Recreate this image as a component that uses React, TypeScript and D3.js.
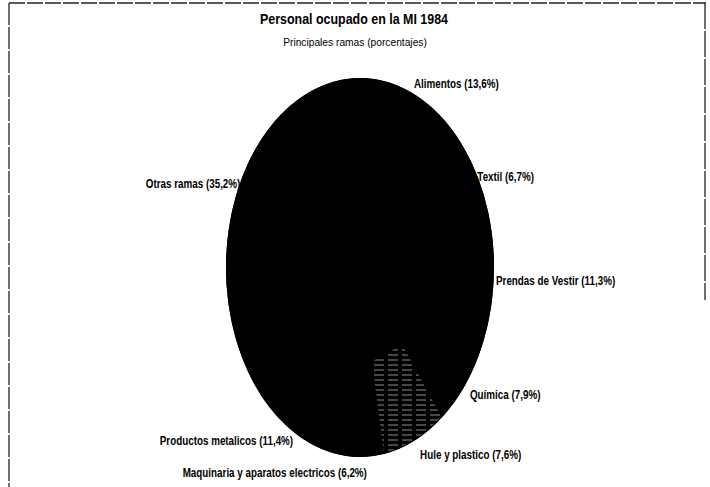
import React, { useEffect, useRef } from 'react';
import * as d3 from 'd3';

const ramas = [
    'Alimentos',
    'Textil',
    'Prendas de Vestir',
    'Química',
    'Hule y plastico',
    'Maquinaria y aparatos electricos',
    'Productos metalicos',
    'Otras ramas',
];
const porcentajes = [13.6, 6.7, 11.3, 7.9, 7.6, 6.2, 11.4, 35.2];
const etiquetas = ['13,6', '6,7', '11,3', '7,9', '7,6', '6,2', '11,4', '35,2'];

const FONT = "'Liberation Sans', Arial, sans-serif";

export default function App() {
    const svgRef = useRef<SVGSVGElement>(null);

    useEffect(() => {
        if (!svgRef.current) return;
        const width = 710;
        const height = 487;
        const svg = d3.select(svgRef.current).attr('width', width).attr('height', height);
        svg.selectAll('*').remove();

        svg.append('rect').attr('width', width).attr('height', height).attr('fill', '#fff');

        const cx = 360;
        const cy = 267.5;
        const rx = 134;
        const ry = 189.5;

        // scanned hatching texture in the hule slice
        const defs = svg.append('defs');
        const pat = defs.append('pattern')
            .attr('id', 'hatch')
            .attr('patternUnits', 'userSpaceOnUse')
            .attr('patternTransform', `scale(${ry / rx},1)`)
            .attr('width', 14)
            .attr('height', 5);
        pat.append('line')
            .attr('x1', 0).attr('x2', 10).attr('y1', 2.5).attr('y2', 2.5)
            .attr('stroke', '#fff').attr('stroke-width', 0.8).attr('stroke-opacity', 0.7);

        // frame
        const frame = svg.append('g').attr('stroke', '#222').attr('stroke-width', 1.3).attr('fill', 'none');
        frame.append('line').attr('x1', 9).attr('x2', 706).attr('y1', 3).attr('y2', 3).attr('stroke-dasharray', '16 2');
        frame.append('line').attr('x1', 9).attr('x2', 9).attr('y1', 3).attr('y2', height).attr('stroke-dasharray', '22 2');
        frame.append('line').attr('x1', 705).attr('x2', 705).attr('y1', 3).attr('y2', 300).attr('stroke-dasharray', '26 2');

        // titles
        svg.append('text')
            .attr('transform', 'translate(354,24) scale(0.83,1)')
            .attr('text-anchor', 'middle')
            .attr('font-family', FONT)
            .attr('font-weight', 'bold')
            .attr('font-size', 15)
            .text('Personal ocupado en la MI 1984');
        svg.append('text')
            .attr('transform', 'translate(355,46) scale(0.93,1)')
            .attr('text-anchor', 'middle')
            .attr('font-family', FONT)
            .attr('font-size', 11)
            .text('Principales ramas (porcentajes)');

        const pie = d3.pie<number>().sort(null).value(d => d);
        const arcs = pie(porcentajes);
        const arc = d3.arc<d3.PieArcDatum<number>>().innerRadius(0).outerRadius(ry);
        const outerArc = d3.arc<d3.PieArcDatum<number>>().innerRadius(ry * 0.5).outerRadius(ry - 1);

        const g = svg.append('g').attr('transform', `translate(${cx},${cy}) scale(${rx / ry},1)`);
        g.append('circle').attr('r', ry).attr('fill', '#000');
        g.selectAll('path.slice')
            .data(arcs)
            .enter()
            .append('path')
            .attr('class', 'slice')
            .attr('d', arc)
            .attr('fill', '#000');
        // texture over outer part of the hule slice
        g.append('path')
            .attr('d', outerArc(arcs[4]))
            .attr('fill', 'url(#hatch)');

        // labels just outside the ellipse at each slice's mid angle
        const labels = svg.append('g')
            .attr('font-family', FONT)
            .attr('font-size', 12)
            .attr('font-weight', 'bold')
            .attr('fill', '#000');

        arcs.forEach((d, i) => {
            const a = (d.startAngle + d.endAngle) / 2;
            const sx = Math.sin(a);
            const cs = Math.cos(a);
            const ex = cx + sx * rx;
            const ey = cy - cs * ry;
            let x = ex + 2 - 4 * cs;
            let anchor = sx >= 0 ? 'start' : 'end';
            if (Math.abs(sx) < 0.05) {
                anchor = 'end';
                x = ex + 9;
            }
            const dy = cs > 0 ? 5 - 30 * Math.max(0, cs - 0.5) : 5 - 15 * cs;
            const y = ey + dy;
            labels.append('text')
                .attr('transform', `translate(${x},${y}) scale(0.82,1)`)
                .attr('text-anchor', anchor)
                .text(`${ramas[i]} (${etiquetas[i]}%)`);
        });
    }, []);

    return (
        <div style={{ position: 'absolute', left: 0, top: 0 }}>
            <svg ref={svgRef} style={{ display: 'block' }} />
        </div>
    );
}
